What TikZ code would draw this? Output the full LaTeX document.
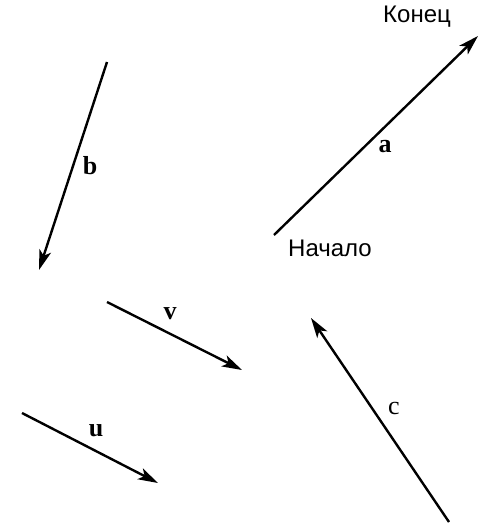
\documentclass[tikz,border=0pt]{standalone}
\usepackage{fontspec}
\setmainfont{Liberation Serif}
\newfontfamily\lsans{Liberation Sans}
\usetikzlibrary{arrows.meta}
\tikzset{
  vec/.style={line width=2.4pt,-{Stealth[length=20pt,width=12pt,inset=5pt]}},
  vlab/.style={font=\fontsize{26}{28}\selectfont\bfseries, inner sep=0pt},
  tlab/.style={font=\lsans\fontsize{24}{26}\selectfont, inner sep=0pt}
}
\begin{document}
\begin{tikzpicture}[x=1pt,y=-1pt]
\useasboundingbox (0,0) rectangle (485,528);
% vector a
\coordinate (a0) at (274,235);
\coordinate (a1) at (478,36);
\draw[vec] (a0) -- (a1);
\node[vlab] (la) at (385,147) {a};
\node[tlab, anchor=west] (end) at (383,17) {Конец};
\node[tlab, anchor=west] (start) at (288,248) {Начало};
% vector b
\coordinate (b0) at (107,62);
\coordinate (b1) at (39,270);
\draw[vec] (b0) -- (b1);
\node[vlab] (lb) at (90,166) {b};
% vector v
\coordinate (v0) at (107,302);
\coordinate (v1) at (242,370);
\draw[vec] (v0) -- (v1);
\node[vlab] (lv) at (170,314) {v};
% vector u
\coordinate (u0) at (22,413);
\coordinate (u1) at (158,483);
\draw[vec] (u0) -- (u1);
\node[vlab] (lu) at (96,431) {u};
% vector c
\coordinate (c0) at (449,522);
\coordinate (c1) at (311,318);
\draw[vec] (c0) -- (c1);
\node[vlab, font=\fontsize{26}{28}\selectfont] (lc) at (394,408) {c};
\end{tikzpicture}
\end{document}
